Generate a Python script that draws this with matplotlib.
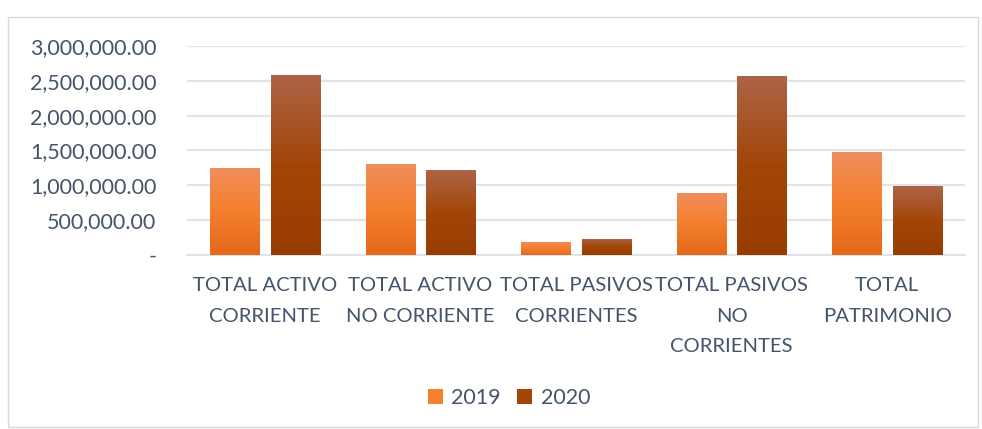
import matplotlib
matplotlib.use("Agg")
import matplotlib.pyplot as plt
import numpy as np
from matplotlib.colors import LinearSegmentedColormap
from matplotlib.patches import Rectangle
from matplotlib.ticker import FuncFormatter

categories = ["TOTAL ACTIVO\nCORRIENTE", "TOTAL ACTIVO\nNO CORRIENTE", "TOTAL PASIVOS\nCORRIENTES",
              "TOTAL PASIVOS\nNO\nCORRIENTES", "TOTAL\nPATRIMONIO"]
series_names = ["2019", "2020"]
values_2019 = [1250000, 1305000, 187000, 890000, 1478000]
values_2020 = [2585000, 1220000, 230000, 2570000, 990000]
yticks = [0, 500000, 1000000, 1500000, 2000000, 2500000, 3000000]

plt.rcParams['font.family'] = ['Lato', 'DejaVu Sans']
txt = '#44546A'
fs = 15.5
fsx = 14.6

fig = plt.figure(figsize=(9.82, 4.29), dpi=100)
# chart border
fig.patches.append(Rectangle((8/982, 2/429), 970/982, (429-17-2)/429, transform=fig.transFigure,
                             fill=False, edgecolor='#D9D9D9', linewidth=1))
ax = fig.add_axes([187/982, 1-255/429, (965-187)/982, (255-46)/429])
ax.set_xlim(-0.5, len(categories)-0.5)
ax.set_ylim(0, 3000000)

cm19 = LinearSegmentedColormap.from_list('c19', ['#E5681A', '#F47F2F', '#F08E5C'])
cm20 = LinearSegmentedColormap.from_list('c20', ['#983C00', '#A24608', '#AE6448'])

w = 0.315
off = 0.195
x = np.arange(len(categories))
grad = np.linspace(0, 1, 256).reshape(-1, 1)
for vals, o, cm, name, lc in [(values_2019, -off, cm19, series_names[0], '#F47F2F'),
                               (values_2020, off, cm20, series_names[1], '#A24608')]:
    bars = ax.bar(x + o, vals, width=w, color='none', edgecolor='none', zorder=3)
    for b in bars:
        x0, y0, bw, bh = b.get_x(), b.get_y(), b.get_width(), b.get_height()
        im = ax.imshow(grad, cmap=cm, origin='lower', extent=[x0, x0+bw, y0, y0+bh],
                       aspect='auto', zorder=3, interpolation='bilinear')
        im.set_clip_path(b)
    ax.bar([0], [0], color=lc, label=name)

ax.set_xlim(-0.5, len(categories)-0.5)
ax.set_ylim(0, 3000000)
ax.set_yticks(yticks)
ax.yaxis.set_major_formatter(FuncFormatter(lambda v, p: '-' if v == 0 else f'{v:,.2f}'))
ax.grid(axis='y', color='#E0E3E8', linewidth=1.5, zorder=0)
ax.set_axisbelow(True)
for s in ['top', 'right', 'left']:
    ax.spines[s].set_visible(False)
ax.spines['bottom'].set_color('#E0E3E8')
ax.spines['bottom'].set_linewidth(1.5)
ax.tick_params(axis='both', length=0, colors=txt)
ax.tick_params(axis='y', pad=22, labelsize=fs)
ax.set_xticks(x)
ax.set_xticklabels(categories, linespacing=1.95)
ax.tick_params(axis='x', pad=16, labelsize=fsx)

leg = fig.legend(loc='center', bbox_to_anchor=(509/982, 1-398/429), ncol=2, frameon=False,
                 fontsize=fs, handlelength=0.7, handleheight=0.7, columnspacing=0.75, handletextpad=0.4)
for t in leg.get_texts():
    t.set_color(txt)

fig.savefig('out.png', dpi=100)
